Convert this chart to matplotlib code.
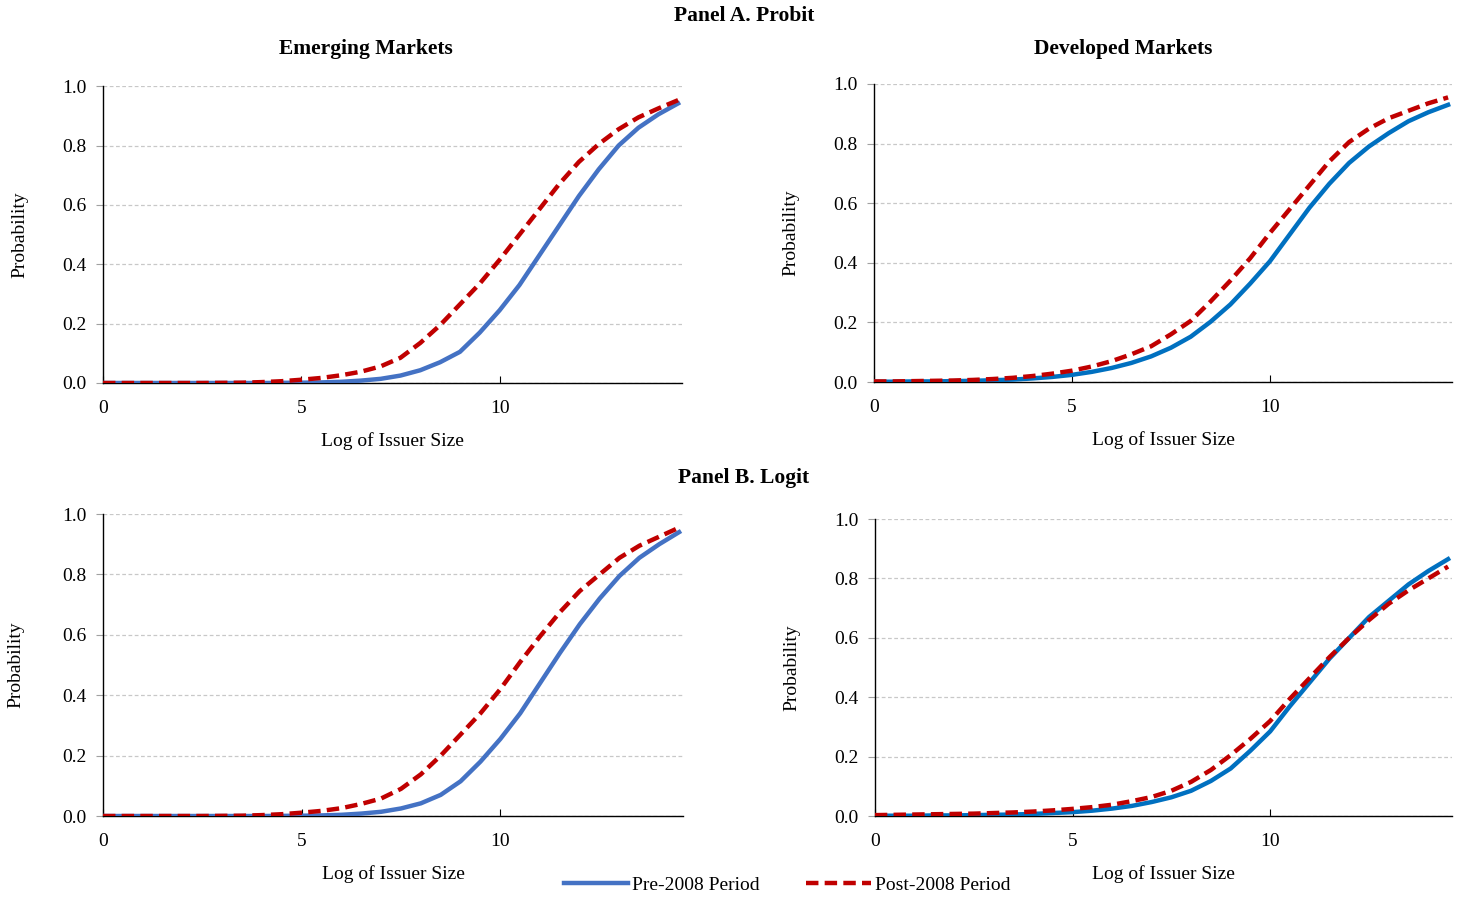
import matplotlib.pyplot as plt
from matplotlib.lines import Line2D

plt.rcParams['font.family'] = ['Liberation Serif', 'DejaVu Serif']

# log of issuer size (x) -- read at half steps
log_size = [0, 0.5, 1, 1.5, 2, 2.5, 3, 3.5, 4, 4.5,
            5, 5.5, 6, 6.5, 7, 7.5, 8, 8.5, 9, 9.5,
            10, 10.5, 11, 11.5, 12, 12.5, 13, 13.5, 14, 14.5]

# Panel A. Probit
em_probit_pre = [0, 0, 0, 0, 0, 0, 0, 0, 0, 0.0005,
                 0.001, 0.002, 0.004, 0.008, 0.014, 0.025, 0.043, 0.07, 0.105, 0.17,
                 0.245, 0.33, 0.43, 0.53, 0.63, 0.72, 0.80, 0.86, 0.905, 0.942]
em_probit_post = [0, 0, 0, 0, 0, 0, 0.0005, 0.001, 0.003, 0.006,
                  0.011, 0.017, 0.026, 0.038, 0.056, 0.085, 0.135, 0.195, 0.265, 0.335,
                  0.415, 0.50, 0.585, 0.67, 0.745, 0.805, 0.855, 0.895, 0.925, 0.953]
dm_probit_pre = [0.001, 0.001, 0.002, 0.002, 0.003, 0.004, 0.006, 0.008, 0.012, 0.017,
                 0.024, 0.034, 0.047, 0.064, 0.086, 0.115, 0.152, 0.202, 0.26, 0.33,
                 0.405, 0.495, 0.585, 0.665, 0.735, 0.79, 0.835, 0.875, 0.905, 0.93]
dm_probit_post = [0.002, 0.002, 0.003, 0.004, 0.005, 0.007, 0.01, 0.014, 0.02, 0.028,
                  0.038, 0.052, 0.07, 0.093, 0.12, 0.16, 0.205, 0.27, 0.34, 0.415,
                  0.50, 0.58, 0.66, 0.74, 0.805, 0.85, 0.885, 0.91, 0.935, 0.955]

# Panel B. Logit
em_logit_pre = [0, 0, 0, 0, 0, 0, 0, 0, 0, 0.0005,
                0.001, 0.002, 0.004, 0.008, 0.014, 0.025, 0.042, 0.07, 0.115, 0.18,
                0.255, 0.34, 0.44, 0.54, 0.635, 0.72, 0.795, 0.855, 0.90, 0.94]
em_logit_post = [0, 0, 0, 0, 0, 0, 0.0005, 0.001, 0.003, 0.006,
                 0.011, 0.017, 0.026, 0.04, 0.058, 0.09, 0.138, 0.20, 0.27, 0.34,
                 0.42, 0.51, 0.595, 0.675, 0.745, 0.80, 0.855, 0.895, 0.925, 0.955]
dm_logit_pre = [0.001, 0.001, 0.001, 0.002, 0.002, 0.003, 0.004, 0.005, 0.007, 0.01,
                0.013, 0.018, 0.025, 0.034, 0.047, 0.063, 0.085, 0.118, 0.16, 0.22,
                0.285, 0.37, 0.45, 0.53, 0.60, 0.67, 0.725, 0.78, 0.825, 0.865]
dm_logit_post = [0.003, 0.004, 0.005, 0.006, 0.007, 0.008, 0.01, 0.012, 0.015, 0.019,
                 0.024, 0.03, 0.038, 0.05, 0.064, 0.085, 0.115, 0.155, 0.205, 0.26,
                 0.32, 0.395, 0.465, 0.535, 0.60, 0.66, 0.715, 0.76, 0.80, 0.84]

y_ticks = [0.0, 0.2, 0.4, 0.6, 0.8, 1.0]
x_ticks = [0, 5, 10]

em_blue = '#4472C4'
dm_blue = '#0070C0'
red = '#C00000'
lw = 3.2
dash = (2.8, 1.4)

fig = plt.figure(figsize=(14.63, 8.98), dpi=100)

boxes = {
    'tl': [0.0704, 0.5735, 0.3958, 0.3305],
    'tr': [0.5974, 0.5746, 0.3951, 0.3319],
    'bl': [0.0704, 0.0913, 0.3965, 0.3363],
    'br': [0.5980, 0.0913, 0.3945, 0.3307],
}

panels = [
    ('tl', em_probit_pre, em_probit_post, em_blue, 24),
    ('tr', dm_probit_pre, dm_probit_post, dm_blue, 24),
    ('bl', em_logit_pre, em_logit_post, em_blue, 27),
    ('br', dm_logit_pre, dm_logit_post, dm_blue, 24),
]

for key, pre, post, blue, ypad in panels:
    ax = fig.add_axes(boxes[key])
    ax.plot(log_size, pre, color=blue, lw=lw, solid_joinstyle='round', zorder=3)
    ax.plot(log_size, post, color=red, lw=lw, dashes=dash,
            dash_joinstyle='round', zorder=4)
    ax.set_xlim(0, 14.6)
    ax.set_ylim(0, 1.0)
    ax.set_yticks(y_ticks)
    ax.set_yticklabels([f'{v:.1f}' for v in y_ticks])
    ax.set_xticks(x_ticks)
    ax.yaxis.grid(True, color='#c8c8c8', linestyle=(0, (3, 2)), lw=0.9)
    ax.set_axisbelow(True)
    for s in ['top', 'right']:
        ax.spines[s].set_visible(False)
    for s in ['left', 'bottom']:
        ax.spines[s].set_color('black')
        ax.spines[s].set_linewidth(1.0)
    ax.tick_params(axis='y', direction='out', length=5, color='#a0a0a0',
                   labelsize=14, pad=7)
    ax.tick_params(axis='x', direction='in', length=5, color='black',
                   labelsize=14, pad=12)
    ax.set_xlabel('Log of Issuer Size', fontsize=14, labelpad=11)
    ax.set_ylabel('Probability', fontsize=14, labelpad=ypad)

fig.text(0.2502, 0.9454, 'Emerging Markets', ha='center', va='center',
         fontsize=15.5, fontweight='bold')
fig.text(0.7676, 0.9454, 'Developed Markets', ha='center', va='center',
         fontsize=15.5, fontweight='bold')
fig.text(0.5085, 0.982, 'Panel A. Probit', ha='center', va='center',
         fontsize=15.5, fontweight='bold')
fig.text(0.5085, 0.468, 'Panel B. Logit', ha='center', va='center',
         fontsize=15.5, fontweight='bold')

handles = [Line2D([], [], color=em_blue, lw=lw),
           Line2D([], [], color=red, lw=lw, dashes=dash)]
fig.legend(handles, ['Pre-2008 Period', 'Post-2008 Period'], loc='center',
           bbox_to_anchor=(0.538, 0.014), ncol=2, frameon=False, fontsize=14,
           handlelength=3.3, handletextpad=0.2, columnspacing=2.4)

fig.savefig('out.png', dpi=100)
